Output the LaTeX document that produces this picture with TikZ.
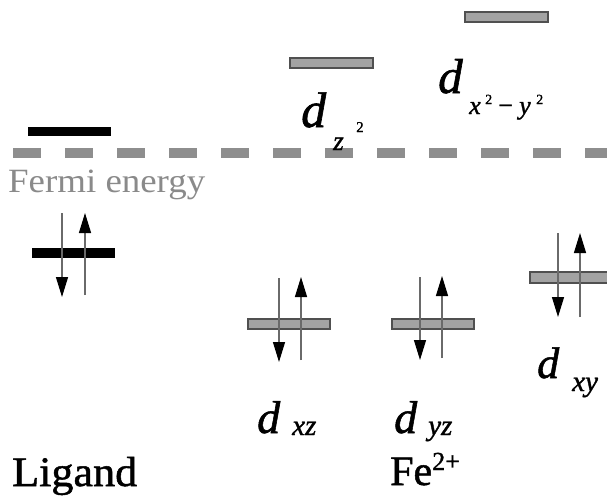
\documentclass[tikz,border=0pt]{standalone}
\usepackage{fontspec}
\usepackage{graphicx}
\newfontfamily\lserif{Liberation Serif}
\newfontfamily\lserifh[FakeBold=1.2]{Liberation Serif}
\usetikzlibrary{arrows.meta}
\definecolor{barfill}{HTML}{A3A3A3}
\definecolor{barline}{HTML}{505050}
\definecolor{dashgray}{HTML}{8E8E8E}
\definecolor{fermigray}{HTML}{8A8A8A}
\definecolor{shaft}{HTML}{6A6A6A}
\newcommand\fsz[1]{\fontsize{#1}{#1}\selectfont}
\tikzset{
  gbar/.style={draw=barline, fill=barfill, line width=1.1pt},
  kbar/.style={fill=black},
  spin/.style={draw=shaft, line width=1.3pt, -{Triangle[length=20pt,width=12pt,color=black]}},
  lbl/.style={inner sep=0pt, anchor=base west, font=\lserifh},
}
\begin{document}
\begin{tikzpicture}[x=1pt,y=-1pt]
\useasboundingbox[fill=white] (0,0) rectangle (607,495);
% Fermi level
\draw[dashgray, line width=10pt, dash pattern=on 28pt off 24pt] (13,153) -- (615,153);
\node[lbl, text=fermigray] (fermi) at (8,192) {\resizebox{197pt}{\height}{\lserif\fsz{34}Fermi energy}};
% Ligand levels
\fill[kbar] (28,127) rectangle (111,136);
\fill[kbar] (32,248) rectangle (115,258);
\draw[spin] (62,213) -- (62,297);
\draw[spin] (85,295) -- (85,213);
% d levels
\draw[gbar] (290,58) rectangle (373,68);
\draw[gbar] (465,12) rectangle (548,22);
\draw[gbar] (248,319) rectangle (330,329);
\draw[gbar] (392,319) rectangle (474,329);
\draw[gbar] (530,272) rectangle (615,283);
% spins
\draw[spin] (279,278) -- (279,362);
\draw[spin] (301,360) -- (301,277);
\draw[spin] (420,277) -- (420,360);
\draw[spin] (442,358) -- (442,276);
\draw[spin] (558,233) -- (558,317);
\draw[spin] (580,317) -- (580,233);
% labels d_z2
\node[lbl] (dz) at (301,127) {\itshape\fsz{50}d};
\node[lbl] (dzs) at (333,150) {\itshape\fsz{27}z};
\node[lbl] (dz2) at (356,132) {\fsz{15}2};
% d_x2-y2
\node[lbl] (dx) at (438,93) {\itshape\fsz{49}d};
\node[lbl] (dxs) at (469,114) {\itshape\fsz{26}x};
\node[lbl] (dx2) at (485,104) {\fsz{14}2};
\node[lbl] (dm) at (498,114) {\fsz{26}−};
\node[lbl] (dys) at (519,114) {\itshape\fsz{26}y};
\node[lbl] (dy2) at (536,104) {\fsz{14}2};
% d_xz, d_yz, d_xy
\node[lbl] (dxz) at (257,433) {\itshape\fsz{46}d};
\node[lbl] (dxzs) at (292,435) {\itshape\fsz{29}xz};
\node[lbl] (dyz) at (394,433) {\itshape\fsz{46}d};
\node[lbl] (dyzs) at (428,435) {\itshape\fsz{29}yz};
\node[lbl] (dxy) at (537,378) {\itshape\fsz{44}d};
\node[lbl] (dxys) at (572,391) {\itshape\fsz{29}xy};
% bottom labels
\node[lbl] (lig) at (12,486) {\resizebox{125pt}{\height}{\lserifh\fsz{42}Ligand}};
\node[lbl] (fe) at (390,485) {\fsz{42}Fe\raisebox{15pt}{\fsz{26}2+}};
\end{tikzpicture}
\end{document}
